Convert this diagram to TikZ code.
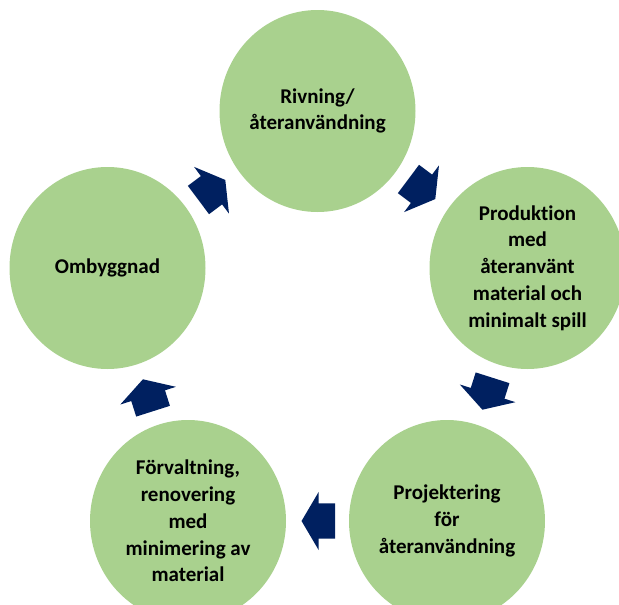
\documentclass[tikz,border=0pt]{standalone}
\usepackage{fontspec}
\setmainfont{Carlito}[Ligatures=NoCommon]
\usetikzlibrary{shapes.geometric, shapes.arrows}
\definecolor{stagegreen}{HTML}{A9D18E}
\definecolor{arrowblue}{HTML}{002060}

\begin{document}
\begin{tikzpicture}[x=1pt, y=-1pt,
  stage/.style={ellipse, fill=stagegreen, minimum width=196pt,
    minimum height=202pt, inner sep=0, align=center,
    font=\fontsize{21}{26.8}\selectfont\bfseries},
  cyclearrow/.style={single arrow, fill=arrowblue, midway, sloped,
    allow upside down, inner xsep=0, inner ysep=17.5pt, xshift=-6pt,
    text height=0pt, text depth=0pt, minimum height=33.5pt,
    single arrow head extend=11.5pt, single arrow tip angle=119}]
  \useasboundingbox (0,0) rectangle (619,605);
  \clip (0,0) rectangle (619,605);

  \node[stage] (rivning) at (317.5,111) {Rivning/\\återanvändning};
  \node[stage] (produktion) at (527.5,268)
  {Produktion\\med\\återanvänt\\material och\\minimalt spill};
  \node[stage] (projektering) at (447,521)
  {Projektering\\för\\återanvändning};
  \node[stage] (forvaltning) at (188,521)
  {Förvaltning,\\renovering\\med\\minimering av\\material};
  \node[stage] (ombyggnad) at (107.5,268) {Ombyggnad};

  \path (rivning) -- node[cyclearrow] (a1) {} (produktion)
  (produktion) -- node[cyclearrow] (a2) {} (projektering)
  (projektering) -- node[cyclearrow] (a3) {} (forvaltning)
  (forvaltning) -- node[cyclearrow] (a4) {} (ombyggnad)
  (ombyggnad) -- node[cyclearrow] (a5) {} (rivning);
\end{tikzpicture}
\end{document}
